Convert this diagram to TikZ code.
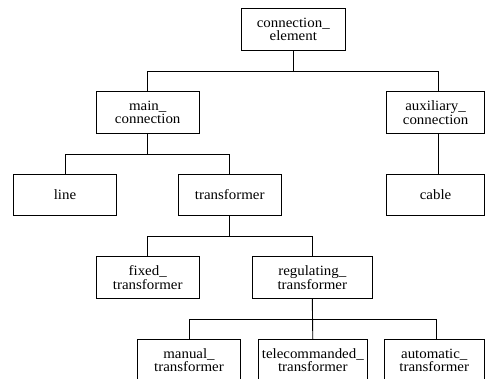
\documentclass[tikz,border=0pt]{standalone}
\usepackage{fontspec}
\setmainfont[FakeStretch=1.05]{Liberation Serif}
\usetikzlibrary{calc}
\begin{document}
\begin{tikzpicture}[x=1pt,y=1pt,
  box/.style={draw=black,line width=0.9pt,rectangle,inner sep=0pt,minimum height=41.5pt,align=center,
    font=\fontsize{14.2}{13.3}\selectfont},
  conn/.style={draw=black,line width=0.9pt}]
\useasboundingbox (0,0) rectangle (485,378);
\begin{scope}
\clip (0,0) rectangle (485,378);
% row 1
\node[box,minimum width=103.3pt] (ce) at (293.3,348.5) {connection\_\\element};
% row 2
\node[box,minimum width=103.3pt] (main) at (147.7,265.5) {main\_\\connection};
\node[box,minimum width=97.8pt] (aux) at (435.6,265.5) {auxiliary\_\\connection};
% row 3
\node[box,minimum width=103.3pt] (line) at (65,183.25) {line};
\node[box,minimum width=103.3pt] (tr) at (229.7,183.25) {transformer};
\node[box,minimum width=97.8pt] (cable) at (435.6,183.25) {cable};
% row 4
\node[box,minimum width=103.3pt] (fixed) at (147.7,100.5) {fixed\_\\transformer};
\node[box,minimum width=120.7pt] (reg) at (312.3,100.5) {regulating\_\\transformer};
% row 5
\node[box,minimum width=102.6pt] (man) at (189,17.7) {manual\_\\transformer};
\node[box,minimum width=109pt] (tele) at (312.8,17.7) {telecommanded\_\\transformer};
\node[box,minimum width=100.5pt] (auto) at (434.25,17.7) {automatic\_\\transformer};
% connectors
\draw[conn] (ce.south) -- ++(0,-20.75) -| (main.north);
\draw[conn] (ce.south) -- ++(0,-20.75) -| ([xshift=3.1pt]aux.north);
\draw[conn] ([xshift=3.1pt]aux.south) -- ([xshift=3.1pt]cable.north);
\draw[conn] (main.south) -- ++(0,-20.5) -| (line.north);
\draw[conn] (main.south) -- ++(0,-20.5) -| (tr.north);
\draw[conn] (tr.south) -- ++(0,-20.6) -| (fixed.north);
\draw[conn] (tr.south) -- ++(0,-20.6) -| (reg.north);
\draw[conn] (reg.south) -- ++(0,-20.6) -| (man.north);
\draw[conn] (reg.south) -- (tele.north);
\draw[conn] (reg.south) -- ++(0,-20.6) -| ([xshift=2pt]auto.north);
\end{scope}
\end{tikzpicture}
\end{document}
